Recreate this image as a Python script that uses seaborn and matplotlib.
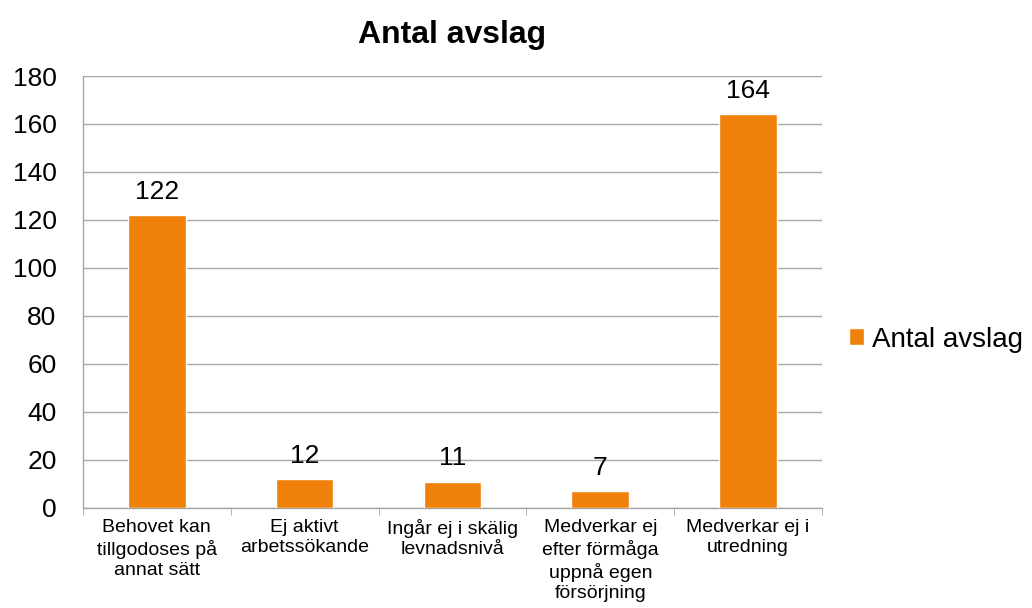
import matplotlib
matplotlib.use("Agg")
import matplotlib.pyplot as plt
import seaborn as sns
import pandas as pd
import numpy as np

categories = ["Behovet kan\ntillgodoses på\nannat sätt",
              "Ej aktivt\narbetssökande",
              "Ingår ej i skälig\nlevnadsnivå",
              "Medverkar ej\nefter förmåga\nuppnå egen\nförsörjning",
              "Medverkar ej i\nutredning"]
values = [122, 12, 11, 7, 164]
series_name = "Antal avslag"
y_ticks = [0, 20, 40, 60, 80, 100, 120, 140, 160, 180]

df = pd.DataFrame({"kategori": categories, "antal": values, "serie": series_name})

sns.set_style("white")
plt.rcParams["font.family"] = ["Liberation Sans", "DejaVu Sans"]
plt.rcParams["text.color"] = "black"

orange = "#F0820C"
grid_c = "#A6A6A6"

fig = plt.figure(figsize=(10.32, 6.08), dpi=100)
ax = fig.add_axes([0.0804, 0.1645, 0.7161, 0.7105])

sns.barplot(data=df, x="kategori", y="antal", hue="serie", palette=[orange],
            saturation=1, width=0.39, ax=ax, zorder=3)

ax.set_ylim(0, 180)
ax.set_xlim(-0.5, len(categories) - 0.5)
ax.set_yticks(y_ticks)
ax.tick_params(axis="y", labelsize=19, length=6, color=grid_c, pad=13,
               labelcolor="black")
ax.tick_params(axis="x", which="major", labelsize=14, length=0, pad=8,
               labelcolor="black")
for lbl in ax.get_xticklabels():
    lbl.set_linespacing(1.25)

# category boundary ticks below the x axis
ax.set_xticks(np.arange(len(categories) + 1) - 0.5, minor=True)
ax.tick_params(axis="x", which="minor", length=5, color=grid_c, bottom=True)

ax.set_xlabel("")
ax.set_ylabel("")
ax.grid(axis="y", color=grid_c, linewidth=1, zorder=0)
for s in ["top", "right"]:
    ax.spines[s].set_visible(False)
for s in ["left", "bottom"]:
    ax.spines[s].set_color(grid_c)
    ax.spines[s].set_linewidth(1)

for c in ax.containers:
    ax.bar_label(c, fontsize=19, padding=8, color="black")

ax.set_title("Antal avslag", fontsize=23, fontweight="bold", pad=24,
             color="black")

ax.legend(loc="center left", bbox_to_anchor=(1.036, 0.39), frameon=False,
          fontsize=20, handlelength=0.55, handleheight=0.55,
          handletextpad=0.3, borderaxespad=0, borderpad=0)

fig.savefig("out.png", dpi=100)
